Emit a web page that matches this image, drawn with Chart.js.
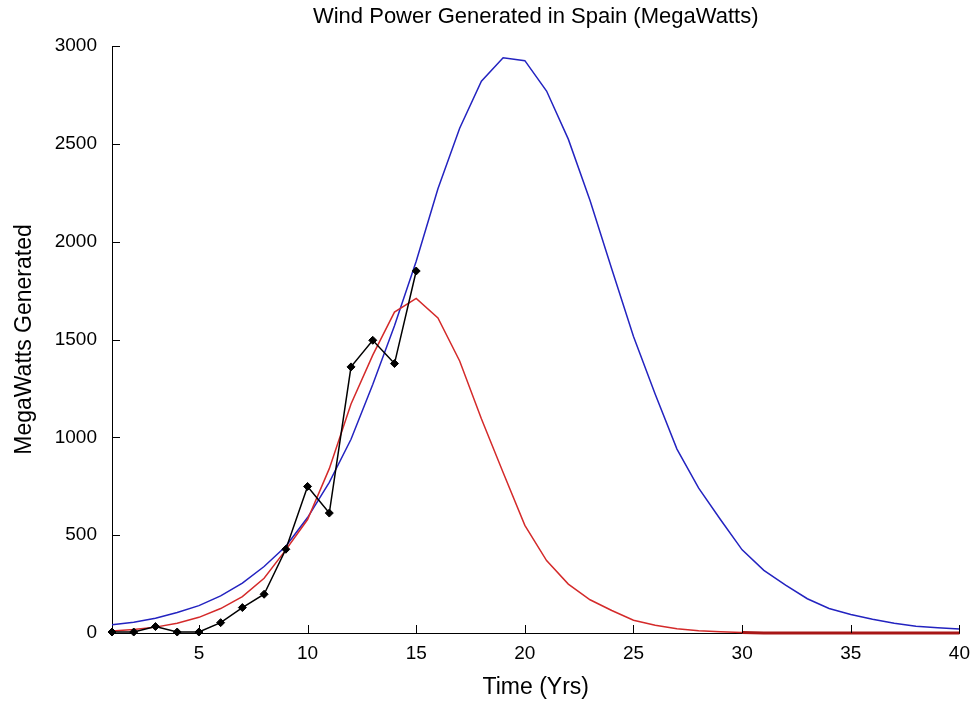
<!DOCTYPE html>
<html>
<head>
<meta charset="utf-8">
<script src="https://cdn.jsdelivr.net/npm/chart.js@4/dist/chart.umd.min.js"></script>
<style>
  html, body { margin: 0; padding: 0; background: #fff; }
  #wrap { width: 979px; height: 702px; }
</style>
</head>
<body>
<div id="wrap"><canvas id="c" width="979" height="702"></canvas></div>
<script>
// ---- data ----
const years = [1,2,3,4,5,6,7,8,9,10,11,12,13,14,15,16,17,18,19,20,
               21,22,23,24,25,26,27,28,29,30,31,32,33,34,35,36,37,38,39,40];
const blueModel = [42,55,75,105,140,190,255,340,443,590,
                   770,990,1270,1570,1900,2270,2580,2820,2940,2925,
                   2770,2524,2210,1860,1515,1220,940,740,580,425,
                   320,245,175,125,95,70,50,35,27,20];
const redModel = [10,18,30,50,80,125,186,280,425,580,
                  840,1170,1420,1640,1710,1610,1390,1095,820,550,
                  370,250,170,115,65,40,22,12,6,2,
                  0,0,0,0,0,0,0,0,0,0];
const observedYears = [1,2,3,4,5,6,7,8,9,10,11,12,13,14,15];
const observed = [5,5,33,5,5,53,130,198,428,749,613,1360,1496,1377,1850];
const xTickValues = [5,10,15,20,25,30,35,40];
const yTickValues = [0,500,1000,1500,2000,2500,3000];

const FONT = "'Liberation Sans', Arial, Helvetica, sans-serif";

const toXY = (xs, ys) => xs.map((x, i) => ({x: x, y: ys[i]}));

const inwardTicks = {
  id: 'inwardTicks',
  afterDraw(chart) {
    const {ctx, chartArea, scales} = chart;
    ctx.save();
    ctx.strokeStyle = '#000';
    ctx.lineWidth = 1;
    ctx.beginPath();
    yTickValues.forEach(v => {
      const y = Math.round(scales.y.getPixelForValue(v)) + 0.5;
      ctx.moveTo(chartArea.left, y);
      ctx.lineTo(chartArea.left + 8, y);
    });
    xTickValues.forEach(v => {
      const x = Math.round(scales.x.getPixelForValue(v)) + 0.5;
      ctx.moveTo(x, chartArea.bottom);
      ctx.lineTo(x, chartArea.bottom - 8);
    });
    ctx.stroke();
    ctx.restore();
  }
};

new Chart(document.getElementById('c'), {
  type: 'line',
  data: {
    datasets: [
      {
        label: 'Observed',
        data: toXY(observedYears, observed),
        borderColor: '#000',
        backgroundColor: '#000',
        borderWidth: 1.5,
        pointStyle: 'rectRot',
        pointRadius: 4,
        pointBorderWidth: 1,
        tension: 0,
        order: 0
      },
      {
        label: 'Red model',
        data: toXY(years, redModel),
        borderColor: '#d42a2a',
        borderWidth: 1.5,
        pointRadius: 0,
        tension: 0,
        segment: {
          borderColor: (c) => c.p0.parsed.x >= 29.5 ? '#a81616' : undefined,
          borderWidth: (c) => c.p0.parsed.x >= 29.5 ? 3 : undefined
        },
        order: 1
      },
      {
        label: 'Blue model',
        data: toXY(years, blueModel),
        borderColor: '#2323c0',
        borderWidth: 1.5,
        pointRadius: 0,
        tension: 0,
        order: 2
      }
    ]
  },
  options: {
    responsive: false,
    animation: false,
    clip: false,
    layout: { padding: { left: 0, right: 16, top: 0, bottom: 0 } },
    plugins: {
      legend: { display: false },
      tooltip: { enabled: false },
      title: {
        display: true,
        text: 'Wind Power Generated in Spain (MegaWatts)',
        fullSize: false,
        color: '#000',
        font: { family: FONT, size: 22, weight: 'normal', lineHeight: 1.2 },
        padding: { top: 4, bottom: 15.6 }
      }
    },
    scales: {
      x: {
        type: 'linear',
        min: 1,
        max: 40,
        afterBuildTicks: (s) => { s.ticks = xTickValues.map(v => ({value: v})); },
        afterFit: (s) => { s.height = 69; },
        grid: { display: false, drawTicks: false, tickLength: 0 },
        border: { display: true, color: '#000', width: 1 },
        ticks: {
          color: '#000',
          padding: 9,
          maxRotation: 0,
          autoSkip: false,
          font: { family: FONT, size: 19 },
          callback: (v) => String(v)
        },
        title: {
          display: true,
          text: 'Time (Yrs)',
          color: '#000',
          font: { family: FONT, size: 23, lineHeight: 1.2 },
          padding: { top: 0, bottom: 1 }
        }
      },
      y: {
        type: 'linear',
        min: 0,
        max: 3000,
        afterBuildTicks: (s) => { s.ticks = yTickValues.map(v => ({value: v})); },
        afterFit: (s) => { s.width = 112; },
        grid: { display: false, drawTicks: false, tickLength: 0 },
        border: { display: true, color: '#000', width: 1 },
        ticks: {
          color: '#000',
          padding: 15,
          autoSkip: false,
          font: { family: FONT, size: 19 },
          callback: (v) => String(v)
        },
        title: {
          display: true,
          text: 'MegaWatts Generated',
          color: '#000',
          font: { family: FONT, size: 23, lineHeight: 1.2 },
          padding: { top: 11, bottom: 0 }
        }
      }
    }
  },
  plugins: [inwardTicks]
});
</script>
</body>
</html>
